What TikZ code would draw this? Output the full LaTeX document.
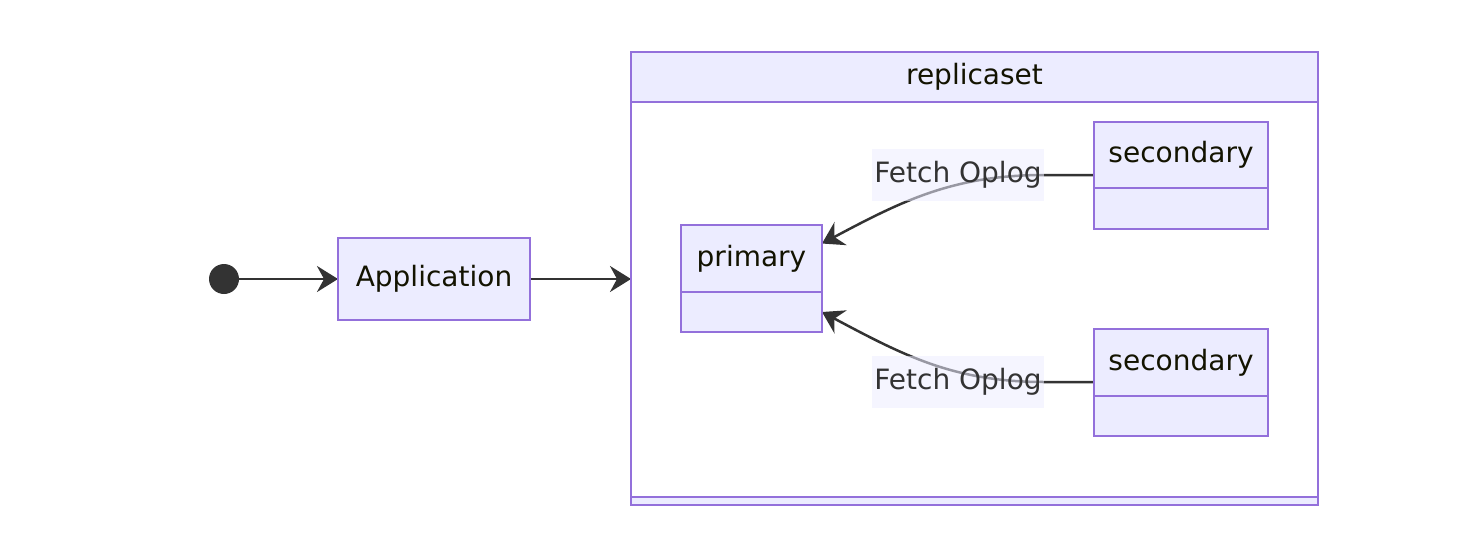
\documentclass[tikz,border=0pt]{standalone}
\usepackage{fontspec}
\setmainfont{DejaVu Sans}
\usetikzlibrary{positioning, arrows.meta}
\definecolor{boxfill}{HTML}{ECECFF}
\definecolor{boxline}{HTML}{9370DB}
\definecolor{edgeline}{HTML}{333333}
\definecolor{nodetext}{HTML}{131300}
\pgfdeclarelayer{edges}
\pgfsetlayers{edges,main}

\begin{document}
\begin{tikzpicture}[x=1pt, y=-1pt,
    font=\fontsize{28}{34}\selectfont,
    statebox/.style={draw=boxline, fill=boxfill, line width=2pt, text=nodetext,
        inner sep=0pt, outer sep=0pt},
    flow/.style={draw=edgeline, line width=2.5pt,
        -{Stealth[length=21pt, width=26pt, inset=7pt]}},
    fetchlabel/.style={fill=boxfill, fill opacity=0.55, text opacity=1, text=edgeline,
        minimum width=172pt, minimum height=52pt, inner sep=0pt}]
    \useasboundingbox (0,0) rectangle (1476,544);

    % Start and Application
    \node[circle, fill=edgeline, minimum size=30pt, inner sep=0pt] (start) at (224,279) {};
    \node[statebox, minimum width=192pt, minimum height=82pt] (app) at (434,279) {Application};

    % replicaset cluster
    \node[statebox, minimum width=687pt, minimum height=50pt] (rs) at (974.5,77) {replicaset};
    \node[statebox, fill=none, minimum width=687pt, minimum height=395pt, below=0pt of rs] (rsbody) {};
    \node[statebox, minimum width=687pt, minimum height=8pt, below=0pt of rsbody] (rsfoot) {};

    % States inside
    \node[statebox, minimum width=141pt, minimum height=67pt] (primary) at (751.5,258.5) {primary};
    \node[statebox, minimum width=141pt, minimum height=40pt, below=0pt of primary] (primarybody) {};
    \node[statebox, minimum width=174pt, minimum height=66pt] (sec1) at (1181,155) {secondary};
    \node[statebox, minimum width=174pt, minimum height=41pt, below=0pt of sec1] (sec1body) {};
    \node[statebox, minimum width=174pt, minimum height=67pt] (sec2) at (1181,362.5) {secondary};
    \node[statebox, minimum width=174pt, minimum height=40pt, below=0pt of sec2] (sec2body) {};

    % Edge labels
    \node[fetchlabel] (lbl1) at (958,175) {Fetch Oplog};
    \node[fetchlabel] (lbl2) at (958,382) {Fetch Oplog};

    % Transitions
    \begin{pgfonlayer}{edges}
    \draw[flow] (start) -- (app);
    \draw[flow] (app) -- (app.east -| rsbody.west);
    \draw[flow] (sec1.west |- lbl1.east) -- (lbl1.east) to[out=180, in=28] (primary.12);
    \draw[flow] (sec2.west |- lbl2.east) -- (lbl2.east) to[out=180, in=-28] (primarybody.east);
    \end{pgfonlayer}
\end{tikzpicture}
\end{document}
